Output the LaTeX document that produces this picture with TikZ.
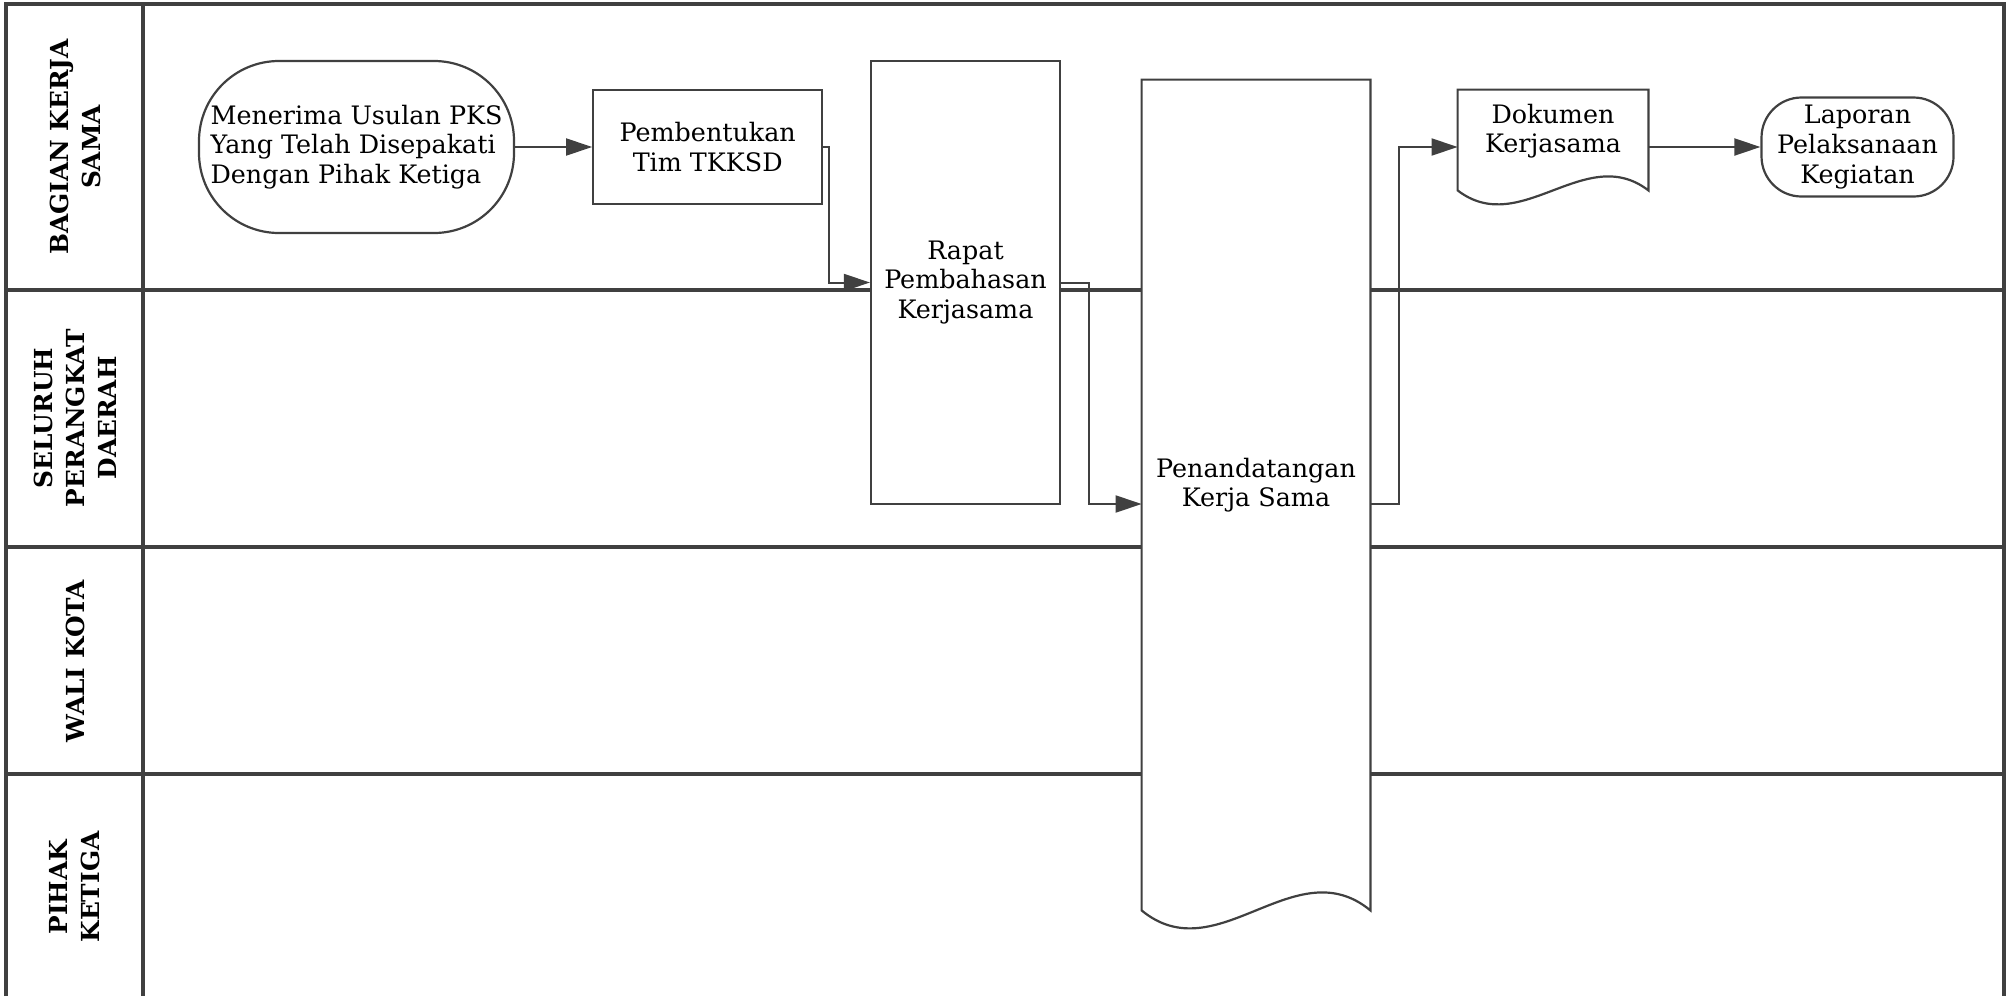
\documentclass[tikz,border=0pt]{standalone}
\usepackage{fontspec}
\setmainfont{DejaVu Serif}
\usetikzlibrary{arrows.meta, positioning, calc}

\definecolor{linegray}{HTML}{404040}

\pgfdeclarelayer{lanes}
\pgfdeclarelayer{shapes}
\pgfsetlayers{lanes,shapes,main}

\newcommand{\docwave}[2]{%
  \draw[draw=linegray, line width=1.1pt, fill=white]
    (#1.north west) -- (#1.north east) -- ([yshift=#2]#1.south east)
    .. controls ($(#1.south west)!0.67!(#1.south east)+(0pt,4.46*#2)$)
       and ($(#1.south west)!0.33!(#1.south east)+(0pt,-2.46*#2)$) .. ([yshift=#2]#1.south west)
    -- cycle;}

\begin{document}
\begin{tikzpicture}[
  x=0.5pt, y=-0.5pt,
  lane/.style={draw=linegray, line width=1.6pt},
  lanelabel/.style={rotate=90, align=center, font=\bfseries\fontsize{12.4}{16}\selectfont},
  box/.style={rectangle, draw=linegray, line width=1.1pt, fill=white, align=center, inner sep=2pt,
    font=\fontsize{12.7}{14.8}\selectfont},
  terminal/.style={box, rounded corners=#1},
  docbox/.style={rectangle, inner sep=0pt},
  doctext/.style={align=center, font=\fontsize{12.7}{14.8}\selectfont},
  line/.style={draw=linegray, line width=1pt, -{Triangle[length=13pt, width=8.5pt]}}
]
\useasboundingbox (0,0) rectangle (2016,996);

\begin{pgfonlayer}{lanes}
\draw[lane] (6,996) -- (6,4) -- (2004,4) -- (2004,996);
\draw[lane] (143,4) -- (143,996);
\foreach \y in {290,547,774}
  \draw[lane] (6,\y) -- (2004,\y);
\end{pgfonlayer}

\node[lanelabel] (bks) at (75,147) {BAGIAN KERJA\\SAMA};
\node[lanelabel] (spd) at (75,418) {SELURUH\\PERANGKAT\\DAERAH};
\node[lanelabel] (wk) at (75,661) {WALI KOTA};
\node[lanelabel] (pk) at (75,887) {PIHAK\\KETIGA};

\node[terminal=40pt, align=left, minimum width=157.5pt, minimum height=86pt] (usulan) at (356.5,147)
  {Menerima Usulan PKS\\Yang Telah Disepakati\\Dengan Pihak Ketiga};
\node[box, right=38.5pt of usulan, minimum width=114.5pt, minimum height=57pt] (tim) {Pembentukan\\Tim TKKSD};
\node[box, minimum width=94.5pt, minimum height=221.5pt] (rapat) at (965.5,282.5) {Rapat\\Pembahasan\\Kerjasama};
\node[docbox, minimum width=114pt, minimum height=424pt,
  label={[doctext, yshift=9.5pt]center:{Penandatangan\\Kerja Sama}}] (tanda) at (1256,504) {};
\node[docbox, minimum width=95pt, minimum height=57pt,
  label={[doctext, yshift=8pt]center:{Dokumen\\Kerjasama}}] (dok) at (1553,147) {};
\node[terminal=20pt, right=56pt of dok, minimum width=96pt, minimum height=49.5pt] (lap)
  {Laporan\\Pelaksanaan\\Kegiatan};

\begin{pgfonlayer}{shapes}
\docwave{tanda}{9pt}
\docwave{dok}{7pt}
\end{pgfonlayer}

\draw[line] (usulan) -- (tim);
\draw[line] (tim.east) -- ++(6,0) |- (rapat.west);
\draw[line] (rapat.east) -- ++(28,0) |- (tanda.west);
\draw[line] (tanda.east) -- ++(29,0) |- (dok.west);
\draw[line] (dok) -- (lap);
\end{tikzpicture}
\end{document}
